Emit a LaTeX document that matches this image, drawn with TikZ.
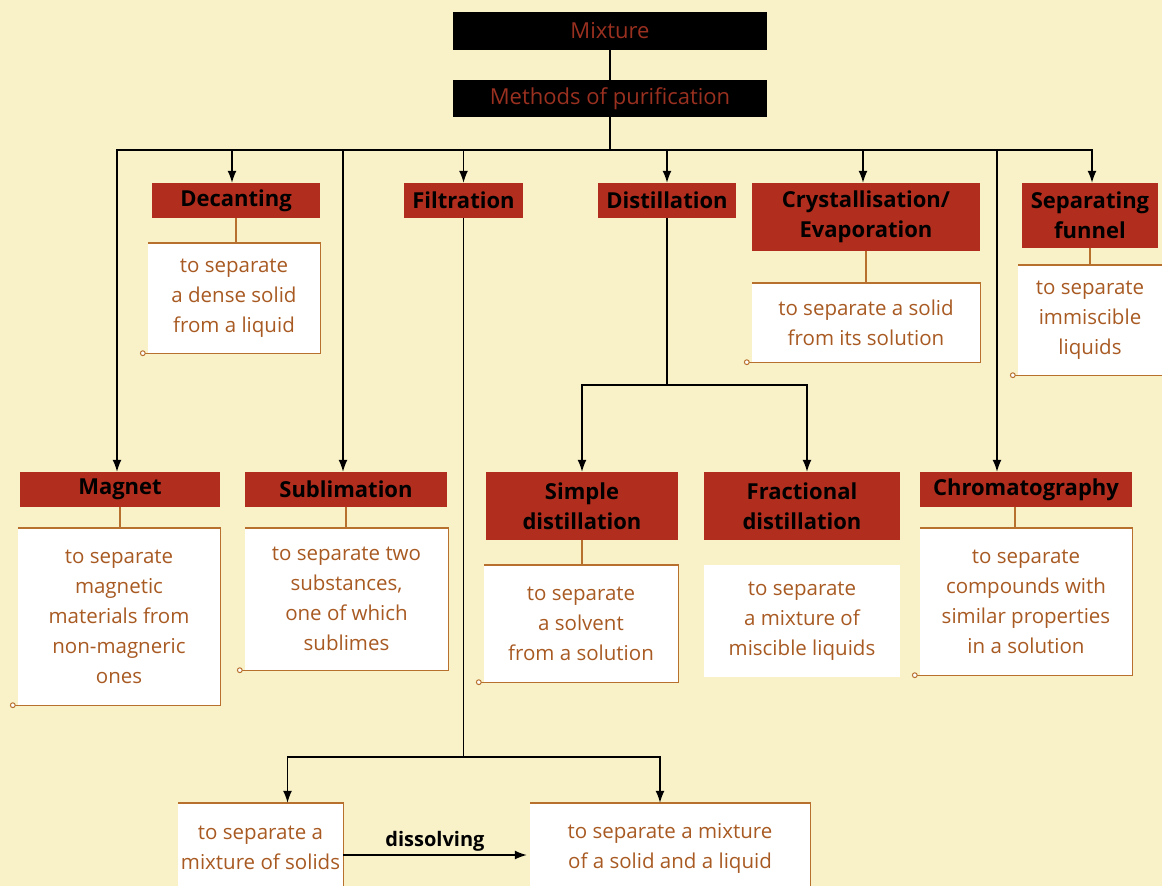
\documentclass[tikz,border=0pt]{standalone}
\usepackage{fontspec}
\setmainfont{Open Sans}
\usepackage{tikz}
\usetikzlibrary{arrows.meta, positioning, calc}

\newcommand{\descframe}[1]{%
  \draw[link] ([xshift=-5pt]#1.south west) -- (#1.south east) -- (#1.north east) -- (#1.north west);
  \draw[link, fill=white, line width=1pt] ([xshift=-5pt]#1.south west) circle (2.4pt);}

\begin{document}
\begin{tikzpicture}[x=1pt, y=-1pt,
  topbox/.style={fill=black, text=darkred, font=\fontsize{22}{26}\selectfont, minimum width=314pt, inner sep=0pt},
  method/.style={fill=brickred, text=black, font=\fontsize{22}{30}\selectfont\bfseries, align=center, inner sep=0pt},
  desc/.style={fill=white, text=ochre, font=\fontsize{20.5}{30}\selectfont, align=center, inner sep=0pt},
  arrow/.style={-{Latex[length=12pt,width=9pt]}, line width=1.4pt},
  link/.style={draw=framebrown, line width=1.4pt}]
% --- FUNDO, CORES E CAIXAS POSICIONADAS EM PIXELS ---
\definecolor{paper}{HTML}{F9F2C9}
\definecolor{brickred}{HTML}{B12D1D}
\definecolor{darkred}{HTML}{9A3020}
\definecolor{ochre}{HTML}{A85A22}
\definecolor{framebrown}{HTML}{B8702E}

% LAYER 1: Fundo
\fill[paper] (0,0) rectangle (1162,886);
\useasboundingbox (0,0) rectangle (1162,886);

% LAYER 2: Topo (Mixture)
\node[topbox, minimum height=38pt] (mixture) at (610,31) {Mixture};
\node[topbox, minimum height=37pt] (methods) at (610,98.5) {Methods of purification};
\draw[line width=1.4pt] (mixture.south) -- (methods.north);

% LAYER 3: Metodos da primeira linha
\node[method, minimum width=168pt, minimum height=35pt] (decanting) at (236,200.5) {Decanting};
\node[method, minimum width=119pt, minimum height=35pt] (filtration) at (463.5,200.5) {Filtration};
\node[method, minimum width=138pt, minimum height=35pt] (distillation) at (667,200.5) {Distillation};
\node[method, minimum width=228pt, minimum height=68pt] (cryst) at (866,217) {Crystallisation/\\Evaporation};
\node[method, minimum width=136pt, minimum height=65pt] (funnel) at (1090,215.5) {Separating\\funnel};

% LAYER 4: Metodos da segunda linha
\node[method, minimum width=200pt, minimum height=35pt] (magnet) at (120,489.5) {Magnet};
\node[method, minimum width=202pt, minimum height=35pt] (sublimation) at (346,489.5) {Sublimation};
\node[method, minimum width=192pt, minimum height=68pt] (simple) at (582,506) {Simple\\distillation};
\node[method, minimum width=196pt, minimum height=68pt] (fractional) at (802,506) {Fractional\\distillation};
\node[method, minimum width=212pt, minimum height=35pt] (chroma) at (1026,489.5) {Chromatography};

% LAYER 5: Descricoes
\node[desc, minimum width=172pt, minimum height=110pt] (decdesc) at (234,298) {to separate\\a dense solid\\from a liquid};
\node[desc, minimum width=228pt, minimum height=79pt] (crystdesc) at (866,322.5) {to separate a solid\\from its solution};
\node[desc, minimum width=144pt, minimum height=110pt] (funneldesc) at (1090,320) {to separate\\immiscible\\liquids};
\node[desc, minimum width=202pt, minimum height=177pt] (magdesc) at (119,616.5) {to separate\\magnetic\\materials from\\non-magneric\\ones};
\node[desc, minimum width=203pt, minimum height=142pt] (subdesc) at (346.5,599) {to separate two\\substances,\\one of which\\sublimes};
\node[desc, minimum width=194pt, minimum height=117pt] (simpdesc) at (581,623.5) {to separate\\a solvent\\from a solution};
\node[desc, minimum width=196pt, minimum height=112pt] (fracdesc) at (802,621) {to separate\\a mixture of\\miscible liquids};
\node[desc, minimum width=212pt, minimum height=147pt] (chromdesc) at (1026,601.5) {to separate\\compounds with\\similar properties\\in a solution};
\node[desc, minimum width=165pt, minimum height=90pt] (solids) at (260.5,848) {to separate a\\mixture of solids};
\node[desc, minimum width=280pt, minimum height=90pt] (solidliq) at (670,848) {to separate a mixture\\of a solid and a liquid};
\descframe{decdesc} \descframe{crystdesc} \descframe{funneldesc}
\descframe{magdesc} \descframe{subdesc} \descframe{simpdesc} \descframe{chromdesc}
\descframe{solids} \descframe{solidliq}

% LAYER 6: Ligacoes metodo -> descricao
\draw[link] (decanting.south) -- (decanting.south |- decdesc.north);
\draw[link] (cryst.south) -- (cryst.south |- crystdesc.north);
\draw[link] (funnel.south) -- (funnel.south |- funneldesc.north);
\draw[link] (magnet.south) -- (magnet.south |- magdesc.north);
\draw[link] (sublimation.south) -- (sublimation.south |- subdesc.north);
\draw[link] (simple.south) -- (simple.south |- simpdesc.north);
\draw[link] ([xshift=-11pt]chroma.south) -- ([xshift=-11pt]chroma.south |- chromdesc.north);

% LAYER 7: Barramento e setas
\coordinate (bus) at (610,150);
\coordinate (dsplit) at (667,385);
\coordinate (fsplit) at (463.5,757);
\draw[line width=1.4pt] (methods.south) -- (bus);
\draw[arrow] (bus) -| ([xshift=-3pt]magnet.north);
\draw[arrow] (bus) -| ([xshift=-4pt]decanting.north);
\draw[arrow] (bus) -| ([xshift=-3pt]sublimation.north);
\draw[arrow] (bus) -| (filtration.north);
\draw[arrow] (bus) -| (distillation.north);
\draw[arrow] (bus) -| ([xshift=-3pt]cryst.north);
\draw[arrow] (bus) -| ([xshift=-29pt]chroma.north);
\draw[arrow] (bus) -| ([xshift=2pt]funnel.north);
\draw[line width=1.4pt] (distillation.south) -- (dsplit);
\draw[arrow] (dsplit) -| (simple.north);
\draw[arrow] (dsplit) -| ([xshift=5pt]fractional.north);
\draw[line width=1.4pt] (filtration.south) -- (fsplit);
\draw[arrow] (fsplit) -| ([xshift=27pt]solids.north);
\draw[arrow] (fsplit) -| ([xshift=-10pt]solidliq.north);

% LAYER 8: Dissolucao
\draw[arrow] ([yshift=-7pt]solids.east) -- ([yshift=-7pt,xshift=-3pt]solidliq.west) node[midway, above, font=\fontsize{20}{24}\selectfont\bfseries] {dissolving};
\end{tikzpicture}
\end{document}
